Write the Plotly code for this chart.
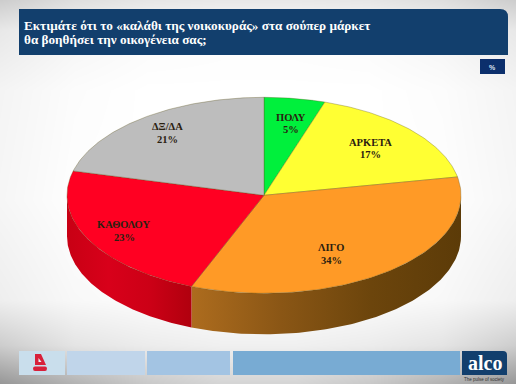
import numpy as np
import plotly.graph_objects as go

# Data
categories = ["ΠΟΛΥ", "ΑΡΚΕΤΑ", "ΛΙΓΟ", "ΚΑΘΟΛΟΥ", "ΔΞ/ΔΑ"]
values = [5, 17, 34, 23, 21]
top_colors = ["#00f03c", "#ffff33", "#ff9a26", "#ff0022", "#bdbdbd"]
side_scales = {
    "ΛΙΓΟ": ["#ad6c1e", "#8a5615", "#6c450c", "#5c3b08"],
    "ΚΑΘΟΛΟΥ": ["#c80014", "#d8001a", "#cc0016", "#b0000e"],
}
title_lines = ["Εκτιμάτε ότι το «καλάθι της νοικοκυράς» στα σούπερ μάρκετ",
               "θα βοηθήσει την οικογένεια σας;"]

# Geometry of the drawing
W, H = 516, 384
CX, CY, RX, RY, DEPTH = 264, 195.3, 197, 98, 41
LABEL_XY = {"ΠΟΛΥ": (291, 123.5), "ΑΡΚΕΤΑ": (370, 148.5), "ΛΙΓΟ": (331, 254),
            "ΚΑΘΟΛΟΥ": (124, 231), "ΔΞ/ΔΑ": (167, 133)}


def ell(t):
    t = np.radians(t)
    return CX + RX * np.sin(t), CY - RY * np.cos(t)


fig = go.Figure()

# Background vignette
bg = [[205, 222, 230, 232, 232, 230, 222, 205],
      [232, 244, 250, 252, 252, 250, 244, 232],
      [244, 252, 255, 255, 255, 255, 252, 244],
      [246, 254, 255, 255, 255, 255, 254, 246],
      [238, 248, 252, 254, 254, 252, 248, 238],
      [205, 228, 236, 240, 240, 236, 228, 205],
      [150, 178, 200, 212, 212, 200, 178, 150]]
fig.add_trace(go.Heatmap(
    z=bg, x=np.linspace(0, W, 8), y=[0, 30, 90, 200, 300, 345, 384],
    zmin=0, zmax=255, zsmooth="best", showscale=False, hoverinfo="skip",
    colorscale=[[0, "#000000"], [1, "#ffffff"]]))

# Angles of slices
edges = np.concatenate([[0], np.cumsum(values)]) * 3.6

# Side walls (visible only for angles 90..270)
for i, cat in enumerate(categories):
    a0, a1 = max(edges[i], 90), min(edges[i + 1], 270)
    if cat in side_scales:
        t = np.linspace(a0, a1, 120)
        x, y = ell(t)
        xs = np.concatenate([x, x[::-1], x[:1]])
        ys = np.concatenate([y, y[::-1] + DEPTH, y[:1]])
        stops = side_scales[cat]
        fig.add_trace(go.Scatter(
            x=xs, y=ys, mode="lines", fill="toself", line=dict(width=0),
            hoverinfo="skip", showlegend=False,
            fillgradient=dict(type="horizontal",
                              colorscale=[[k / (len(stops) - 1), c] for k, c in enumerate(stops)])))

# Top face
for i, cat in enumerate(categories):
    t = np.linspace(edges[i], edges[i + 1], 100)
    x, y = ell(t)
    fig.add_trace(go.Scatter(
        x=np.concatenate([[CX], x, [CX]]), y=np.concatenate([[CY], y, [CY]]),
        mode="lines", fill="toself", fillcolor=top_colors[i],
        line=dict(color="rgba(90,80,20,0.55)", width=0.6),
        hoverinfo="skip", showlegend=False))

# Slice labels
for i, cat in enumerate(categories):
    lx, ly = LABEL_XY[cat]
    for off, txt in ((-6.2, cat), (6.2, f"{values[i]}%")):
        fig.add_annotation(x=lx, y=ly + off, text=f"<b>{txt}</b>", showarrow=False,
                           font=dict(family="Liberation Serif", size=10.5, color="#2a2010"),
                           align="center", borderpad=0)

# Title panel and chrome
shapes = [
    dict(type="path", path="M19,9 L500,9 Q508,9 508,17 L508,55 L19,55 Z",
         fillcolor="#123f6d", line_width=0),
    dict(type="rect", x0=480, x1=505, y0=59, y1=74, fillcolor="#0c2f6c", line_width=0),
    dict(type="rect", x0=19, x1=65, y0=351, y1=375, fillcolor="#c9deec", line_width=0),
    dict(type="rect", x0=67, x1=145, y0=351, y1=375, fillcolor="#c0d5ea", line_width=0),
    dict(type="rect", x0=147, x1=230, y0=351, y1=375, fillcolor="#a3c4e3", line_width=0),
    dict(type="rect", x0=233, x1=460, y0=351, y1=375, fillcolor="#78abd3", line_width=0),
    dict(type="path", path="M462,351 L503,351 Q507,351 507,355 L507,375 L462,375 Z",
         fillcolor="#123f6d", line_width=0),
    dict(type="path", path="M35,354 L41,354 L46,365 L35,365 Z", fillcolor="#d8203a", line_width=0),
    dict(type="path", path="M38.5,358 L41.5,362 L38.5,362 Z", fillcolor="#ecf2f6", line_width=0),
    dict(type="path", path="M35,366.5 L45,366.5 Q47,366.5 47,368.5 Q47,371 45,371 L35,371 Q33,371 33,368.5 Q33,366.5 35,366.5 Z",
         fillcolor="#d8203a", line_width=0),
]
for j, line in enumerate(title_lines):
    fig.add_annotation(x=25, y=25 + j * 14.7, text=f"<b>{line}</b>", showarrow=False,
                       xanchor="left", borderpad=0, borderwidth=0, xshift=-1,
                       font=dict(family="Liberation Serif", size=13.2, color="#ffffff"))
fig.add_annotation(x=492.5, y=67, text="<b>%</b>", showarrow=False,
                   font=dict(family="Liberation Sans", size=7, color="#dfe6f2"))
fig.add_annotation(x=485, y=363, text="<b>alco</b>", showarrow=False,
                   font=dict(family="Liberation Serif", size=20, color="#ffffff"))
fig.add_annotation(x=484.5, y=379.5, text="The pulse of society", showarrow=False,
                   font=dict(family="Liberation Sans", size=4.5, color="#333333"))

fig.update_layout(
    width=W, height=H, margin=dict(l=0, r=0, t=0, b=0), showlegend=False,
    paper_bgcolor="#ffffff", plot_bgcolor="#ffffff", shapes=shapes,
    xaxis=dict(range=[0, W], visible=False, fixedrange=True),
    yaxis=dict(range=[H, 0], visible=False, fixedrange=True))

fig.write_html("out.html", config={"displayModeBar": False},
               post_script="document.body.style.margin='0';document.body.style.overflow='hidden';")
